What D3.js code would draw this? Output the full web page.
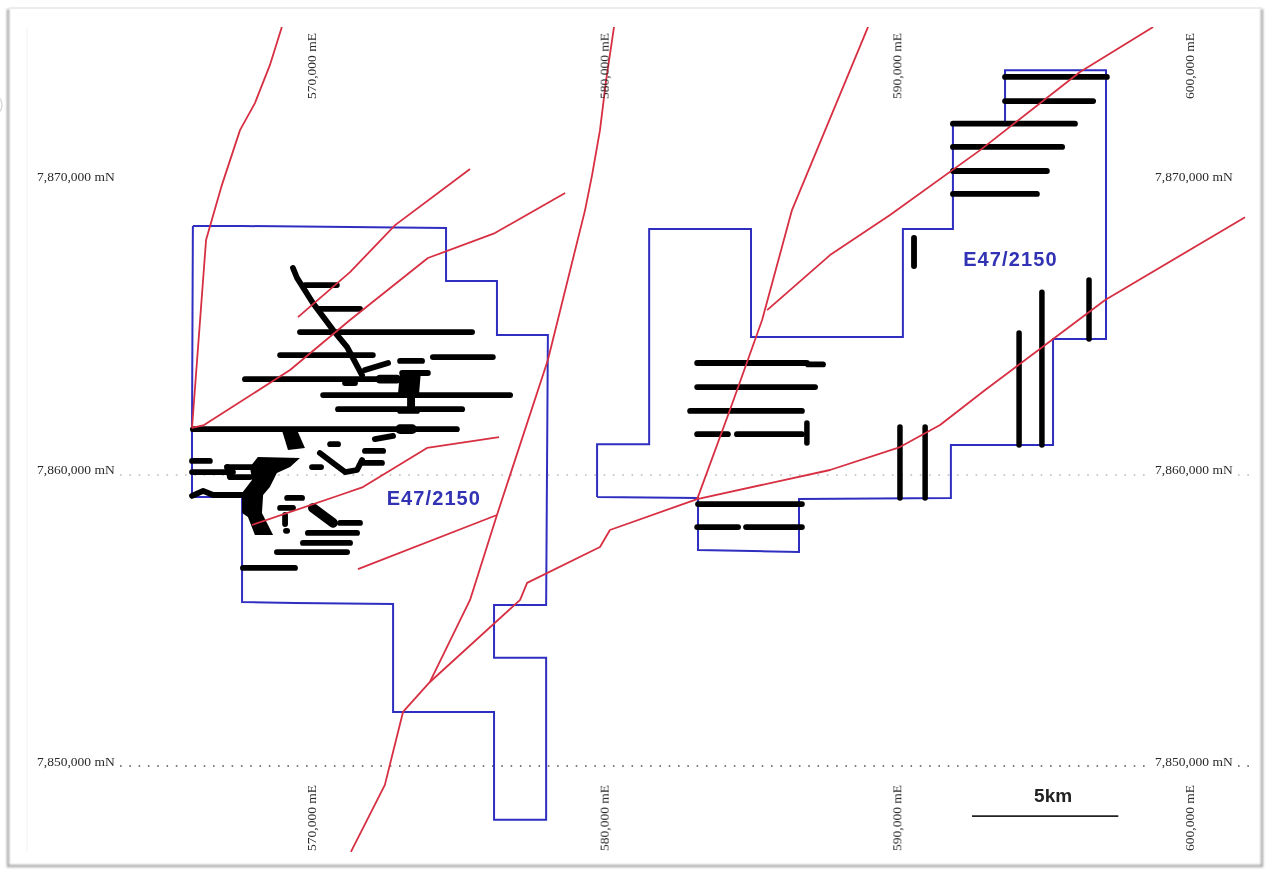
<!DOCTYPE html>
<html><head><meta charset="utf-8">
<style>html,body{margin:0;padding:0;background:#fff;overflow:hidden}svg{display:block}</style>
<script src="https://cdnjs.cloudflare.com/ajax/libs/d3/7.8.5/d3.min.js"></script>
</head><body><svg id="map" width="1266" height="871"></svg>
<script>
// All map values are km from the grid origin 570,000 mE / 7,860,000 mN
const eastTicks = [0, 10, 20, 30];
const northTicks = [10, 0, -10];
const gridNorths = [0, -10];
const tenementWest = [[-4.07,8.47],[-2.39,8.47],[4.58,8.40],[4.58,6.60],[6.32,6.60],[6.32,4.76],[8.06,4.76],[8.00,-4.42],[6.22,-4.42],[6.22,-6.22],[8.00,-6.22],[8.00,-11.73],[6.22,-11.73],[6.22,-8.06],[2.77,-8.06],[2.77,-4.39],[-0.58,-4.35],[-2.39,-4.32],[-2.39,-0.75],[-4.10,-0.75],[-4.10,1.60],[-4.07,8.47]];
const tenementEast = [[9.74,-0.75],[9.74,1.05],[11.52,1.05],[11.52,8.37],[15.00,8.37],[15.00,4.69],[20.19,4.69],[20.19,8.37],[21.90,8.37],[21.90,12.01],[23.68,12.01],[23.68,13.77],[27.13,13.77],[27.13,4.63],[25.32,4.63],[25.32,1.02],[21.83,1.02],[21.83,-0.78],[16.64,-0.82],[16.64,-2.62],[13.19,-2.55],[13.19,-0.78],[9.74,-0.75]];
const structures = [
 [[-1.03,15.24],[-1.44,13.94],[-1.95,12.65],[-2.46,11.73],[-3.08,9.86],[-3.62,7.99],[-4.10,1.60]],
 [[10.32,15.24],[10.05,13.43],[9.84,11.73],[9.57,10.20],[9.33,9.01],[8.06,3.91],[6.32,-1.36],[5.40,-4.25],[4.03,-7.04],[3.11,-8.06],[2.49,-10.54],[1.33,-12.82]],
 [[5.40,10.41],[2.84,8.50],[1.30,6.90],[-0.48,5.37]],
 [[8.65,9.59],[6.25,8.23],[3.96,7.38],[1.30,5.27],[-0.75,3.57],[-3.69,1.70],[-4.10,1.60]],
 [[6.39,1.29],[3.93,0.92],[1.74,-0.41],[0.96,-0.68],[-2.05,-1.70]],
 [[1.57,-3.20],[6.32,-1.36]],
 [[31.88,8.77],[27.10,5.95],[25.05,4.42],[23.00,2.89],[21.46,1.70],[20.09,0.95],[17.70,0.17],[13.16,-0.82],[10.18,-1.87],[9.84,-2.45],[7.35,-3.67],[7.11,-4.25],[4.03,-7.04]],
 [[19.00,15.24],[16.40,9.01],[15.38,5.27],[14.28,2.21],[13.16,-0.82]],
 [[28.74,15.24],[26.24,13.71],[22.83,11.05],[19.75,8.84],[17.70,7.48],[15.55,5.61]]
];
// [east start, east end, north]
const drillRows = [
 [-0.24,0.85,6.46],[0.27,1.64,5.65],[-0.41,5.47,4.86],[-1.09,2.08,4.08],[4.13,6.18,4.01],[3.01,3.76,3.88],
 [-2.29,2.90,3.26],[3.08,3.96,3.47],[0.38,6.77,2.72],[0.89,5.13,2.24],[3.01,3.59,2.18],[-4.07,4.95,1.56],[1.81,2.43,0.82],
 [1.71,2.39,0.41],[0.62,0.89,1.05],[-4.10,-3.49,0.48],[-4.10,-2.70,0.10],[0.96,1.64,-1.63],[-0.14,1.54,-1.97],
 [-0.31,1.30,-2.31],[-1.20,1.20,-2.62],[-2.36,-0.58,-3.16],
 [13.16,16.91,3.81],[16.95,17.46,3.76],[13.16,17.19,2.99],[12.92,16.74,2.18],[13.16,14.21,1.39],[14.52,16.74,1.39],
 [13.19,16.74,-0.99],[13.16,14.56,-1.77],[14.83,16.74,-1.77],
 [23.68,27.16,13.54],[23.68,26.69,12.72],[21.90,26.07,11.95],[21.90,25.63,11.16],[21.90,25.11,10.34],[21.90,24.77,9.56]
];
// [east, north start, north end]
const drillColumns = [[16.91,1.77,1.09],[20.09,1.63,-0.78],[20.95,1.63,-0.78],[26.55,6.63,4.63],[24.94,6.22,1.02],[24.16,4.83,1.02]];
const drillTraces = [
 [[-0.65,7.04],[-0.51,6.70],[0.03,5.85],[0.72,4.93],[1.20,4.35],[1.71,3.40]],
 [[1.81,3.57],[2.60,3.81]],
 [[2.15,1.22],[2.77,1.33]],
 [[0.27,0.75],[0.72,0.41],[1.13,0.10],[1.54,0.17],[1.71,0.51]],
 [[0,0.27],[0.31,0.27]],
 [[-4.10,-0.71],[-3.72,-0.54],[-3.38,-0.68],[-2.36,-0.68]],
 [[-2.90,0.27],[-2.05,0.27]],
 [[-2.80,-0.07],[-2.12,-0.07]],
 [[-2.90,0.27],[-2.80,-0.07]],
 [[-0.85,-0.78],[-0.34,-0.78]],
 [[-1.09,-1.12],[-0.65,-1.12]],
 [[-0.92,-1.36],[-0.92,-1.67]],
 [[-0.89,-1.90],[-0.85,-1.90]]
];
// [points, thickness in metres]
const drillThick = [
 [[[0.03,-1.12],[0.72,-1.63]],330],
 [[[2.32,3.26],[2.90,3.26]],300],
 [[[3.01,1.56],[3.42,1.56]],330],
 [[[1.13,3.13],[1.47,3.13]],200],
 [[[20.57,8.06],[20.57,7.11]],200]
];
const drillBlobs = [
 [[-1.03,1.53],[-0.51,1.53],[-0.24,0.92],[-0.82,0.85]],
 [[-1.85,0.61],[-0.41,0.58],[-0.75,0.27],[-1.20,0.07],[-1.44,-0.41],[-1.67,-0.68],[-1.71,-1.29],[-1.33,-2.04],[-1.95,-2.04],[-2.19,-1.43],[-2.39,-1.29],[-2.39,-0.61],[-2.05,-0.17],[-2.12,0.27]],
 [[3.01,3.50],[3.72,3.50],[3.66,2.79],[3.52,2.79],[3.52,2.11],[3.25,2.11],[3.25,2.79],[2.94,2.79]]
];
const tenementLabels = [[2.55,-0.78,"E47/2150"],[22.25,7.35,"E47/2150"]];
const scaleBar = {east:[22.55,27.55], north:-11.60, label:"5km"};

const x = d3.scaleLinear().domain([0,30]).range([312,1190]);
const y = d3.scaleLinear().domain([10,-10]).range([181,769]);
const labelY = d3.scaleLinear().domain([10,-10]).range([181,766]);
const line = d3.line().x(d=>x(d[0])).y(d=>y(d[1]));
const fmt = d3.format(",");
const svg = d3.select("#map");
const defs = svg.append("defs");
defs.append("filter").attr("id","soft").append("feGaussianBlur").attr("stdDeviation",0.55);
defs.append("filter").attr("id","labelBlur").append("feGaussianBlur").attr("stdDeviation",0.5);
const sh = defs.append("filter").attr("id","edge").attr("x","-2%").attr("y","-2%").attr("width","104%").attr("height","104%");
sh.append("feGaussianBlur").attr("stdDeviation",1.2);
defs.append("clipPath").attr("id","sheet").append("rect").attr("x",27).attr("y",27).attr("width",1225).attr("height",825);

// paper edge
svg.append("circle").attr("cx",-9).attr("cy",105).attr("r",11).attr("fill","none").attr("stroke","#d8d8d8").attr("stroke-width",1.5);
svg.append("path").attr("d","M8 9V866H1262V9").attr("fill","none").attr("stroke","#a8a8a8").attr("stroke-width",2.4).attr("filter","url(#edge)");
svg.append("path").attr("d","M9 8H1262").attr("fill","none").attr("stroke","#e6e6e6").attr("stroke-width",1.5);
svg.append("path").attr("d","M27 27V852").attr("fill","none").attr("stroke","#f3f3f3").attr("stroke-width",1);

// grid dots
const grid = svg.append("g").attr("clip-path","url(#sheet)");
gridNorths.forEach((n,i)=>{
  const col = i===0 ? "#b9b9b9" : "#555";
  const py = labelY(n)+(i===0?1.5:0);
  [[120,1150],[1238,1252]].forEach(r=>{
    grid.append("line").attr("x1",r[0]).attr("x2",r[1]).attr("y1",py).attr("y2",py)
      .attr("stroke",col).attr("stroke-width",1.4).attr("stroke-dasharray","1.6 7.7");
  });
});

const map = svg.append("g").attr("clip-path","url(#sheet)").attr("filter","url(#soft)");
map.selectAll("path.ten").data([tenementWest,tenementEast]).join("path").attr("class","ten")
  .attr("d",line).attr("fill","none").attr("stroke","#2f2fc0").attr("stroke-width",2);
map.selectAll("path.blob").data(drillBlobs).join("path").attr("class","blob")
  .attr("d",d=>line(d)+"Z").attr("fill","#000");
const drill = map.append("g").attr("fill","none").attr("stroke","#000").attr("stroke-linecap","round").attr("stroke-linejoin","round");
drill.selectAll("line.row").data(drillRows).join("line").attr("class","row")
  .attr("x1",d=>x(d[0])).attr("x2",d=>x(d[1])).attr("y1",d=>y(d[2])).attr("y2",d=>y(d[2])).attr("stroke-width",5.8);
drill.selectAll("line.col").data(drillColumns).join("line").attr("class","col")
  .attr("x1",d=>x(d[0])).attr("x2",d=>x(d[0])).attr("y1",d=>y(d[1])).attr("y2",d=>y(d[2])).attr("stroke-width",5.5);
drill.selectAll("path.trace").data(drillTraces).join("path").attr("class","trace").attr("d",line).attr("stroke-width",5.8);
const metresToPx = m => x(m/1000)-x(0);
drill.selectAll("path.thick").data(drillThick).join("path").attr("class","thick")
  .attr("d",d=>line(d[0])).attr("stroke-width",d=>metresToPx(d[1]));
map.selectAll("path.fault").data(structures).join("path").attr("class","fault").attr("d",line)
  .attr("fill","none").attr("stroke","#d72f42").attr("stroke-width",1.8).attr("stroke-linejoin","round");

// labels
const labels = svg.append("g").attr("filter","url(#labelBlur)");
const serif = "'Liberation Serif',serif";
const eLab = d => fmt(570000+d*1000)+" mE";
const nLab = d => fmt(7860000+d*1000)+" mN";
[66,818].forEach(cy=>{
  labels.selectAll(null).data(eastTicks).join("text")
    .attr("transform",d=>`translate(${x(d)+4},${cy}) rotate(-90)`)
    .attr("text-anchor","middle").attr("font-family",serif).attr("font-size",13.5).attr("fill","#2a2a2a").text(eLab);
});
labels.selectAll("text.nl").data(northTicks).join("text").attr("class","nl")
  .attr("x",37).attr("y",d=>labelY(d)).attr("font-family",serif).attr("font-size",13.5).attr("fill","#2a2a2a").text(nLab);
labels.selectAll("text.nr").data(northTicks).join("text").attr("class","nr")
  .attr("x",1155).attr("y",d=>labelY(d)).attr("font-family",serif).attr("font-size",13.5).attr("fill","#2a2a2a").text(nLab);

const text = svg.append("g").attr("filter","url(#labelBlur)");
text.selectAll("text.ten").data(tenementLabels).join("text").attr("class","ten")
  .attr("x",d=>x(d[0])).attr("y",d=>y(d[1])+7).attr("font-family","'Liberation Sans',sans-serif")
  .attr("font-weight",700).attr("font-size",20).attr("letter-spacing",1.1).attr("fill","#3030b4").text(d=>d[2]);
svg.append("line").attr("x1",x(scaleBar.east[0])).attr("x2",x(scaleBar.east[1])).attr("y1",y(scaleBar.north)).attr("y2",y(scaleBar.north))
  .attr("stroke","#222").attr("stroke-width",1.8);
text.append("text").attr("x",x((scaleBar.east[0]+scaleBar.east[1])/2)+8).attr("y",y(scaleBar.north)-14)
  .attr("text-anchor","middle").attr("font-family","'Liberation Sans',sans-serif").attr("font-weight",700).attr("font-size",19).attr("fill","#222").text(scaleBar.label);
</script></body></html>
